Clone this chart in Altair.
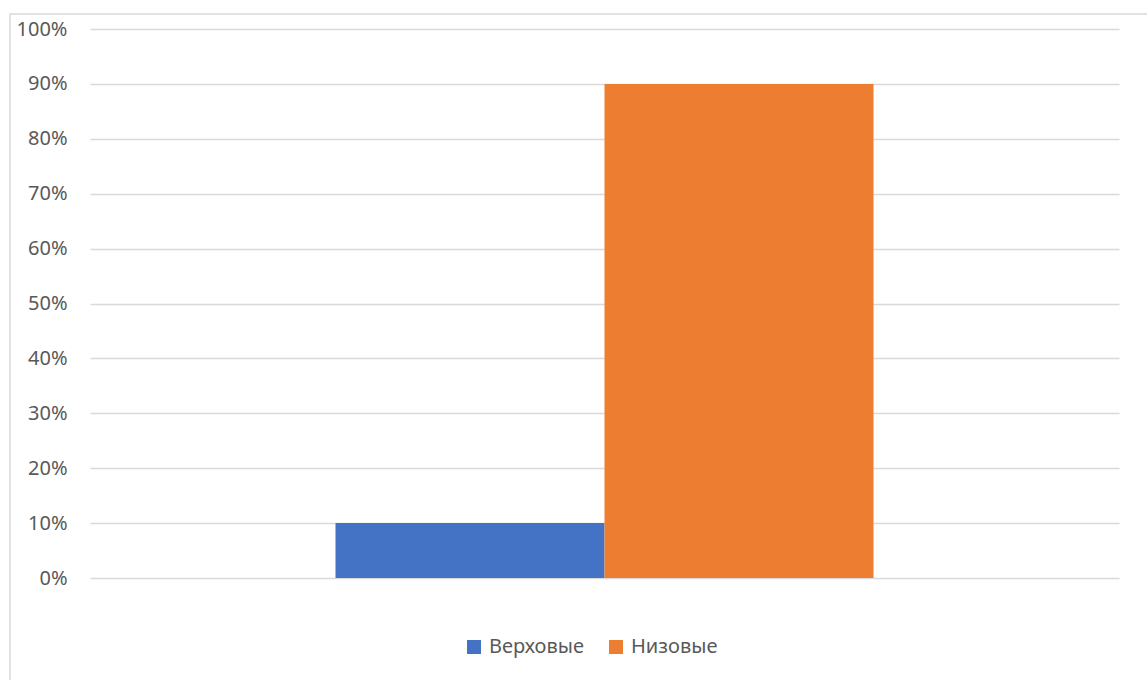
import altair as alt
import pandas as pd

series = ["Верховые", "Низовые"]
values = [0.10, 0.90]
colors = ["#4472C4", "#ED7D31"]
y_ticks = [0, 0.1, 0.2, 0.3, 0.4, 0.5, 0.6, 0.7, 0.8, 0.9, 1.0]

df = pd.DataFrame({"series": series, "value": values})

W, H = 1029, 549
FONT = "Noto Sans"

frame = alt.Chart(df).mark_rect(
    fill=None, stroke="#D9D9D9", strokeWidth=1.5
).encode(
    x=alt.value(-80), x2=alt.value(1070), y=alt.value(-15), y2=alt.value(660)
).transform_filter(alt.datum.series == series[0])

bars = alt.Chart(df).mark_bar(size=269).encode(
    x=alt.X("series:N", sort=series, axis=None,
            scale=alt.Scale(paddingInner=0, paddingOuter=0.9126)),
    y=alt.Y("value:Q", scale=alt.Scale(domain=[0, 1]),
            axis=alt.Axis(values=y_ticks, format=".0%", title=None,
                          domain=False, ticks=False, labelPadding=23,
                          labelFont=FONT, labelFontSize=20, labelColor="#595959",
                          gridColor="#D9D9D9", gridWidth=1.3)),
    color=alt.Color("series:N", sort=series,
                    scale=alt.Scale(domain=series, range=colors),
                    legend=alt.Legend(title=None, orient="none", direction="horizontal",
                                      legendX=374, legendY=608,
                                      symbolType="square", symbolSize=196,
                                      symbolStrokeWidth=0, labelOffset=5,
                                      columnPadding=22, labelFont=FONT,
                                      labelFontSize=20, labelColor="#595959")),
)

chart = alt.layer(frame, bars).properties(
    width=W, height=H,
    autosize=alt.AutoSizeParams(type="none"),
    padding={"left": 90, "top": 29, "right": 28, "bottom": 102},
    background="white",
).configure_view(stroke=None)

chart.save("out.html", embed_options={"renderer": "svg", "actions": False})
